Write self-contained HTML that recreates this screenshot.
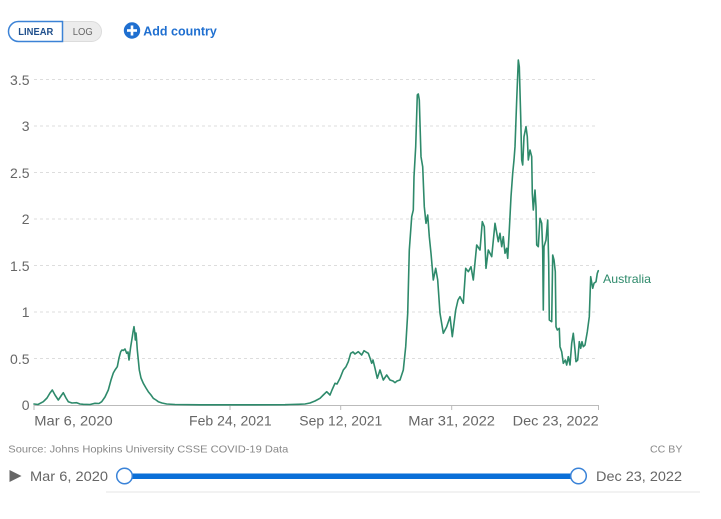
<!DOCTYPE html>
<html>
<head>
<meta charset="utf-8">
<style>
  html,body{margin:0;padding:0;background:#fff;}
  body{width:721px;height:519px;overflow:hidden;position:relative;font-family:"Liberation Sans",sans-serif;}
  svg{position:absolute;left:0;top:0;}
</style>
</head>
<body>
<svg width="721" height="519" viewBox="0 0 721 519" xmlns="http://www.w3.org/2000/svg" font-family="Liberation Sans, sans-serif">
  <!-- Toggle -->
  <rect x="8.5" y="21.5" width="93" height="20" rx="10" ry="10" fill="#ececec" stroke="#dcdcdc" stroke-width="1"/>
  <path d="M18.5,21.5 H62.5 V41.5 H18.5 A10,10 0 0 1 18.5,21.5 Z" fill="#fff" stroke="#3b82d6" stroke-width="1.5"/>
  <text x="35.8" y="35.2" font-size="10" font-weight="bold" fill="#1f4f8c" text-anchor="middle" textLength="35" lengthAdjust="spacingAndGlyphs">LINEAR</text>
  <text x="82.7" y="35.2" font-size="10" fill="#666" text-anchor="middle" textLength="20" lengthAdjust="spacingAndGlyphs">LOG</text>
  <!-- Add country -->
  <circle cx="132" cy="30.5" r="8.2" fill="#1f6fd0"/>
  <rect x="127" y="29.2" width="10" height="2.6" fill="#fff"/>
  <rect x="130.7" y="25.5" width="2.6" height="10" fill="#fff"/>
  <text x="143.3" y="35.5" font-size="13" font-weight="bold" fill="#1f6fd0" textLength="73.5" lengthAdjust="spacingAndGlyphs">Add country</text>

  <!-- Gridlines -->
  <g stroke="#dddddd" stroke-width="1" stroke-dasharray="3,3">
    <line x1="34" y1="79.5" x2="598" y2="79.5"/>
    <line x1="34" y1="126" x2="598" y2="126"/>
    <line x1="34" y1="172.5" x2="598" y2="172.5"/>
    <line x1="34" y1="219" x2="598" y2="219"/>
    <line x1="34" y1="265.5" x2="598" y2="265.5"/>
    <line x1="34" y1="312" x2="598" y2="312"/>
    <line x1="34" y1="358.5" x2="598" y2="358.5"/>
  </g>
  <!-- Y labels -->
  <g font-size="14" fill="#666" text-anchor="end">
    <text x="29.5" y="85">3.5</text>
    <text x="29.5" y="131">3</text>
    <text x="29.5" y="178">2.5</text>
    <text x="29.5" y="224">2</text>
    <text x="29.5" y="271">1.5</text>
    <text x="29.5" y="317">1</text>
    <text x="29.5" y="364">0.5</text>
    <text x="29.5" y="410">0</text>
  </g>
  <!-- X axis -->
  <line x1="34" y1="405.5" x2="598.7" y2="405.5" stroke="#bbb" stroke-width="1"/>
  <g stroke="#bbb" stroke-width="1">
    <line x1="34" y1="405" x2="34" y2="410"/>
    <line x1="230" y1="405" x2="230" y2="410"/>
    <line x1="340.7" y1="405" x2="340.7" y2="410"/>
    <line x1="451.7" y1="405" x2="451.7" y2="410"/>
    <line x1="598.5" y1="405" x2="598.5" y2="410"/>
  </g>
  <g font-size="14" fill="#666">
    <text x="34.3" y="425.5" textLength="78.4" lengthAdjust="spacingAndGlyphs">Mar 6, 2020</text>
    <text x="189" y="425.5" textLength="82.7" lengthAdjust="spacingAndGlyphs">Feb 24, 2021</text>
    <text x="299.3" y="425.5" textLength="83" lengthAdjust="spacingAndGlyphs">Sep 12, 2021</text>
    <text x="408.3" y="425.5" textLength="86.7" lengthAdjust="spacingAndGlyphs">Mar 31, 2022</text>
    <text x="512.7" y="425.5" textLength="86" lengthAdjust="spacingAndGlyphs">Dec 23, 2022</text>
  </g>

  <!-- Series -->
  <polyline fill="none" stroke="#2e8a6b" stroke-width="1.6" stroke-linejoin="round" stroke-linecap="round"
    points="34,404 38,404.5 43.3,401.7 47,398 50,393 52.3,390 55,395 58.3,400 61,396 63.3,392.7 66,398 68.3,401.7 72,403 76.7,402.7 80,404 83.3,404.3 90,404.5 95,403.3 99,403.5 101.7,401.7 105,397 108.3,390 111,380 113.3,373 115,370 117.3,366.7 119,358 120.7,351.7 122,350 123.3,350.5 125,349 126.7,353.3 128,352 129,360 130,352 130.7,346.7 132.3,336.7 133,332 134,326.7 134.8,333 135.3,340 136,333 136.6,340 137.3,350 139.3,370 141,378 143.3,383.3 146,388 148.3,391.7 151,395 153.3,398.3 156,400 158.3,401.7 162,403 166.7,404 175,404.5 200,404.8 250,404.8 285,404.7 290,404.5 298,404.3 305,404 310,403 315,401 320,398.3 323.3,395 326.7,391.7 330,395 332,390 335,383.3 337,384 340,378.3 343.3,370 346,366.7 348.3,361.7 350.7,353.3 353,352 355,354 358.3,351.7 361.7,355 364,350.7 366,352 368.3,353.3 370,358 371.7,363.3 373,360 375,368.3 377.3,378.3 380,370 383.3,380 386.7,375 390,380 393,381 395,382.7 397,381 400,380 403.3,370 405.7,346.7 407.7,313.3 409.3,250 411.7,216.7 413.3,210 414,176.7 415.7,146.7 417.3,95 418.3,94 419.3,100 421,156.7 422.7,166.7 424.3,206.7 426,223.3 427.7,215 429.3,236.7 431,253.3 433.3,280 435.7,268.3 437.7,280 440,313.3 443.3,333.3 446.7,326.7 450,316.7 452.3,336.7 455.7,310 458,300 460,296.7 463.3,303.3 465.7,268.3 468.3,271.7 471,266.7 473.3,280 476.7,245 480,250 482.3,221.7 484.3,226.7 486,268.3 488.3,250 491.7,256.7 495,223.3 498.3,241.7 500,233.3 501.7,246.7 503.3,236.7 505,253.3 506.7,248.3 507.7,258.3 509.3,230 511,196.7 512.7,173.3 514,160 515,146.7 516.7,100 518.3,60 519.3,66.7 520.7,116.7 521.7,160 522.7,165 524,136.7 525,131.7 526,126.7 527.3,136.7 528.3,160 530,150 531.7,156.7 532.3,193.3 533.3,210 535,190 536,206.7 536.7,245 538.3,246.7 540,218.3 541.7,223.3 542.7,250 543.3,310 544,246.7 546,240 547.7,220 548.7,263.3 549.3,320 551.7,321.7 552.7,255 554,260 555.3,271.7 556,326.7 557.3,330 559.3,328.3 560,346.7 561.7,351.7 563.3,363.3 565.3,360 566.7,365 568.3,356.7 570,365 571.7,343.3 573.3,333.3 575,350 576,361.7 577.7,360 579.3,341.7 580.7,348.3 582,341.7 583.3,346.7 585,345 587.3,331.7 589.3,316.7 590.7,276.7 592.7,288.3 594,283.3 596,281.7 597.3,273.3 598.3,270.7"/>
  <text x="603" y="283" font-size="12" fill="#2e8a6b" textLength="48" lengthAdjust="spacingAndGlyphs">Australia</text>

  <!-- Source -->
  <text x="8.3" y="452.5" font-size="10.5" fill="#888" textLength="280" lengthAdjust="spacingAndGlyphs">Source: Johns Hopkins University CSSE COVID-19 Data</text>
  <text x="682.5" y="452.5" font-size="10.5" fill="#888" text-anchor="end" textLength="32.5" lengthAdjust="spacingAndGlyphs">CC BY</text>

  <!-- Slider -->
  <polygon points="9.5,470 21.5,476 9.5,482" fill="#666"/>
  <text x="30" y="481" font-size="14" fill="#666" textLength="78" lengthAdjust="spacingAndGlyphs">Mar 6, 2020</text>
  <line x1="106" y1="492" x2="700" y2="492" stroke="#e6e6e6" stroke-width="1"/>
  <rect x="124.5" y="473.5" width="454" height="5.5" fill="#0a6fd8"/>
  <circle cx="124.5" cy="476" r="7.8" fill="#fff" stroke="#3a83d8" stroke-width="1.5"/>
  <circle cx="578.5" cy="476" r="7.8" fill="#fff" stroke="#3a83d8" stroke-width="1.5"/>
  <text x="596" y="481" font-size="14" fill="#666" textLength="86" lengthAdjust="spacingAndGlyphs">Dec 23, 2022</text>
</svg>
</body>
</html>
